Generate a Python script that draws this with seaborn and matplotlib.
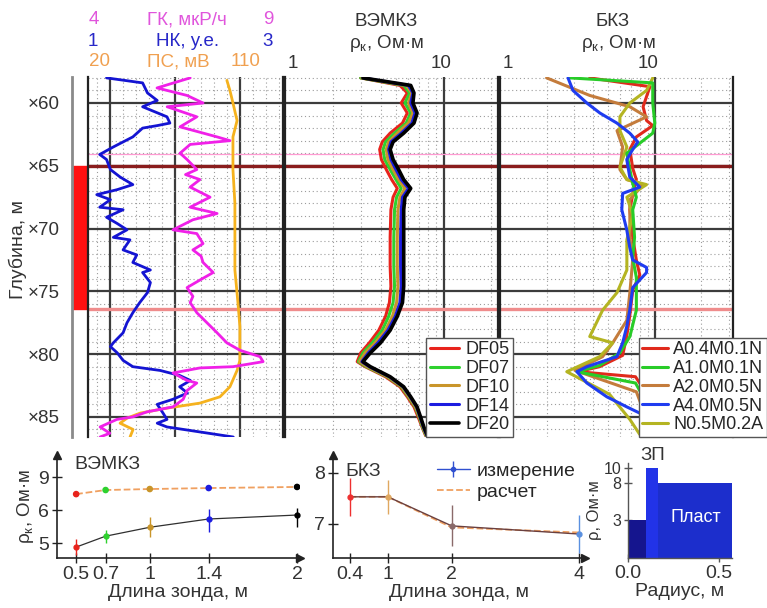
# -*- coding: utf-8 -*-
import numpy as np
import matplotlib
matplotlib.use("Agg")
import matplotlib.pyplot as plt
from matplotlib.ticker import MultipleLocator, LogLocator, FixedLocator, NullFormatter
from matplotlib.lines import Line2D
import seaborn as sns

# ---------------- well log data (depth, m) ----------------
gk_depth = [58.0, 58.8, 59.4, 60.0, 60.3, 61.1, 61.9, 62.7, 63.0, 63.3, 64.0, 64.5, 65.3, 65.7, 66.1, 66.7,
            67.5, 68.3, 68.8, 69.3, 70.1, 70.4, 71.2, 71.7, 72.2, 72.7, 73.5, 74.1, 74.7, 75.4, 75.9, 76.7,
            77.5, 78.3, 79.1, 79.7, 80.2, 80.6, 81.0, 81.1, 81.5, 82.1, 82.3, 82.9, 83.6, 84.2, 84.6, 85.0,
            85.2, 85.8, 86.3, 86.6]
gk_vals = [6.62, 5.77, 6.54, 6.95, 6.03, 6.79, 6.36, 7.31, 7.64, 6.62, 6.36, 6.54, 6.79, 6.5, 6.87, 6.62,
           7.13, 6.62, 7.31, 6.69, 6.18, 6.79, 6.95, 6.69, 6.9, 6.95, 7.21, 6.87, 6.54, 6.69, 6.62, 6.79,
           7.05, 7.31, 7.56, 7.90, 8.41, 8.49, 7.72, 6.87, 6.18, 6.54, 6.79, 6.54, 6.44, 6.18, 5.51, 5.15,
           4.74, 4.31, 4.56, 4.31]

nk_depth = [58.0, 58.4, 59.2, 59.8, 60.3, 61.1, 61.6, 61.8, 62.0, 62.7, 63.1, 63.5, 64.1, 64.5, 65.3, 65.9,
            66.5, 66.9, 67.3, 67.7, 68.3, 68.5, 69.1, 69.6, 70.1, 70.7, 70.9, 71.7, 72.1, 72.7, 73.3, 73.5,
            74.3, 75.1, 75.9, 76.7, 77.5, 78.3, 79.1, 79.4, 79.9, 80.5, 81.0, 81.3, 81.7, 82.1, 82.6, 83.1,
            83.6, 84.0, 84.7, 85.2, 85.5, 85.8, 86.2, 86.6]
nk_vals = [1.19, 1.56, 1.61, 1.71, 1.56, 1.81, 1.84, 1.71, 1.56, 1.46, 1.36, 1.26, 1.12, 1.19, 1.23, 1.33,
           1.46, 1.30, 1.09, 1.23, 1.12, 1.36, 1.19, 1.30, 1.40, 1.26, 1.43, 1.36, 1.50, 1.46, 1.64, 1.56,
           1.64, 1.61, 1.53, 1.46, 1.40, 1.36, 1.26, 1.23, 1.30, 1.36, 1.46, 1.74, 1.94, 2.05, 1.94, 2.02,
           1.87, 1.71, 1.77, 1.81, 1.71, 1.81, 2.15, 2.49]

ps_depth = [58.2, 59.0, 60.0, 61.4, 62.7, 65.3, 68.0, 70.7, 73.3, 75.9, 77.8, 79.4, 80.5, 81.3, 82.6, 83.4,
            83.9, 84.3, 84.7, 85.1, 85.5, 86.0, 86.6]
ps_vals = [84.1, 85.5, 86.9, 88.8, 86.9, 86.9, 87.8, 87.8, 87.8, 89.2, 90.1, 90.1, 90.1, 88.8, 85.5, 80.9,
           71.7, 56.5, 44.0, 38.0, 34.8, 40.8, 39.4]

# VEMKZ apparent resistivity, Ohm*m
vemkz_depth = [58.0, 58.6, 59.2, 60.0, 60.8, 61.6, 62.4, 63.1, 63.7, 64.5, 65.3, 66.1, 66.8, 67.5, 68.5, 70.7,
               73.0, 74.6, 75.9, 77.0, 78.1, 79.1, 79.9, 80.6, 81.0, 81.8, 82.6, 83.4, 84.2, 85.0, 85.8, 86.5]
df05 = [3.0, 5.3, 5.9, 5.4, 5.9, 5.5, 4.6, 4.1, 3.95, 4.05, 4.35, 4.7, 5.1, 4.8, 4.65, 4.6,
        4.6, 4.65, 4.55, 4.3, 3.9, 3.4, 3.0, 2.85, 3.2, 4.3, 5.3, 5.9, 6.5, 6.9, 7.3, 7.7]
df07 = [3.0, 5.6, 6.1, 5.7, 6.2, 5.8, 4.9, 4.3, 4.15, 4.25, 4.6, 5.0, 5.4, 5.05, 4.9, 4.85,
        4.85, 4.9, 4.8, 4.5, 4.1, 3.55, 3.1, 2.9, 3.25, 4.4, 5.4, 6.0, 6.6, 7.0, 7.35, 7.75]
df10 = [3.05, 5.8, 6.3, 6.0, 6.4, 6.0, 5.1, 4.5, 4.35, 4.45, 4.8, 5.2, 5.7, 5.3, 5.15, 5.1,
        5.1, 5.15, 5.05, 4.75, 4.3, 3.7, 3.2, 2.95, 3.3, 4.45, 5.45, 6.05, 6.65, 7.05, 7.4, 7.8]
df14 = [3.1, 6.0, 6.4, 6.2, 6.6, 6.3, 5.4, 4.65, 4.5, 4.65, 5.0, 5.4, 6.0, 5.5, 5.4, 5.35,
        5.35, 5.4, 5.3, 4.95, 4.45, 3.85, 3.35, 3.05, 3.4, 4.55, 5.55, 6.15, 6.75, 7.1, 7.45, 7.85]
df20 = [3.1, 6.2, 6.5, 6.4, 6.8, 6.5, 5.6, 4.8, 4.6, 4.8, 5.2, 5.6, 6.2, 5.7, 5.6, 5.6,
        5.6, 5.6, 5.5, 5.1, 4.6, 4.0, 3.45, 3.1, 3.45, 4.6, 5.6, 6.2, 6.8, 7.15, 7.5, 7.9]
vemkz_names = ["DF05", "DF07", "DF10", "DF14", "DF20"]

# BKZ apparent resistivity, Ohm*m
a04_depth = [58.0, 58.7, 60.3, 61.4, 61.8, 62.7, 63.7, 65.2, 66.1, 67.3, 68.5, 70.7, 72.5, 73.7, 74.9, 76.9,
             78.5, 80.1, 81.0, 81.4, 81.8, 82.9, 84.4, 86.0]
a04 = [3.8, 9.3, 8.4, 8.85, 9.7, 7.6, 6.9, 7.2, 7.6, 7.2, 6.9, 7.2, 7.6, 8.0, 7.2, 6.9,
       6.6, 6.2, 4.4, 3.2, 7.5, 8.6, 9.3, 10.0]
a10_depth = [58.0, 58.4, 60.0, 61.6, 62.4, 63.2, 64.0, 65.3, 66.4, 67.5, 68.5, 70.7, 72.3, 73.9, 76.5, 78.6,
             79.9, 80.9, 81.4, 82.3, 83.6, 85.2, 86.4]
a10 = [2.83, 9.7, 9.7, 10.0, 9.7, 8.0, 6.6, 6.9, 7.2, 7.6, 7.2, 7.4, 7.2, 7.6, 7.6, 6.9,
       5.95, 4.4, 3.14, 7.5, 8.6, 9.3, 10.0]
a20_depth = [58.0, 59.4, 60.3, 61.1, 62.2, 63.5, 65.3, 66.1, 66.5, 67.7, 70.7, 72.5, 75.1, 77.3, 79.1, 80.2,
             81.3, 83.0, 84.4, 86.2]
a20 = [2.0, 3.8, 6.9, 8.85, 5.7, 6.2, 5.95, 6.6, 8.4, 6.9, 6.9, 7.2, 6.9, 6.6, 5.35, 4.6,
       3.05, 7.6, 8.4, 9.3]
a40_depth = [58.0, 59.0, 60.0, 60.8, 61.6, 62.4, 63.1, 63.7, 64.5, 65.9, 66.7, 67.2, 68.5, 70.1, 71.5, 72.5,
             73.1, 73.5, 74.7, 76.5, 77.8, 79.1, 80.2, 81.0, 81.4, 82.3, 83.4, 84.2, 84.7, 85.6, 86.4]
a40 = [2.75, 2.96, 3.64, 4.42, 5.69, 6.89, 7.76, 7.2, 6.59, 6.89, 8.0, 6.2, 6.12, 6.59, 6.89, 7.2,
       8.85, 8.85, 7.2, 6.89, 6.59, 6.2, 5.69, 3.64, 3.14, 3.64, 4.9, 6.59, 8.0, 10.0, 11.6]
n05_depth = [58.0, 59.0, 60.0, 61.1, 62.2, 63.5, 65.1, 66.1, 66.5, 67.5, 68.9, 70.9, 73.3, 75.1, 76.5, 78.6,
             79.1, 80.2, 81.4, 83.2, 85.2, 86.4]
n05 = [9.7, 8.85, 6.9, 5.95, 5.95, 6.6, 5.95, 6.6, 8.85, 6.6, 7.2, 6.6, 6.6, 5.7, 4.6, 3.8,
       5.35, 4.4, 2.7, 5.1, 6.9, 8.0]
bkz_names = ["A0.4M0.1N", "A1.0M0.1N", "A2.0M0.5N", "A4.0M0.5N", "N0.5M0.2A"]

formation_top = 65.0
formation_bottom = 76.4
marker_depth = 64.1
depth_ticks = [60, 65, 70, 75, 80, 85]
depth_labels = ["×60", "×65", "×70", "×75", "×80", "×85"]

# sounding curves at the formation
vemkz_len = [0.5, 0.7, 1.0, 1.4, 2.0]
vemkz_meas = [4.88, 5.21, 5.48, 5.73, 5.85]
vemkz_err = [0.25, 0.2, 0.3, 0.38, 0.35]
vemkz_calc = [7.45, 7.82, 7.91, 8.0, 8.1]
vemkz_yticks = [5, 6, 9]

bkz_len = [0.4, 1.0, 2.0, 4.0]
bkz_meas = [7.53, 7.53, 6.96, 6.80]
bkz_err = [0.37, 0.33, 0.4, 0.38]
bkz_calc = [7.53, 7.53, 6.93, 6.83]
bkz_yticks = [7, 8]

# resistivity model
model_edges = [0.0, 0.10, 0.165, 0.57]
model_rho = [3.0, 10.0, 8.0]
model_yticks = [3, 8, 10]

# colours
GK_C, NK_C, PS_C = "#f020e8", "#1414d2", "#f5b21e"
vemkz_colors = ["#e8231c", "#2ed12e", "#c9952a", "#1c1ce0", "#000000"]
bkz_colors = ["#e02a1c", "#28cc28", "#c47c3c", "#1f3cf0", "#b4b422"]
model_colors = ["#15158e", "#2233e8", "#1c2ecc"]

sns.set_theme(style="white")
plt.rcParams["font.family"] = ["Liberation Sans", "DejaVu Sans"]
plt.rcParams["axes.unicode_minus"] = False

W, H = 767, 608
fig = plt.figure(figsize=(W / 100, H / 100), dpi=100)


def box(x0, y0, x1, y1):
    return [x0 / W, 1 - y1 / H, (x1 - x0) / W, (y1 - y0) / H]


def ftext(px, py, s, **kw):
    fig.text(px / W, 1 - py / H, s, ha=kw.pop("ha", "center"), va=kw.pop("va", "center"), **kw)


D_TOP, D_BOT = 57.93, 86.6


def no_ticks(ax):
    ax.tick_params(which="both", left=False, bottom=False, top=False, right=False, length=0,
                   labelleft=False, labelbottom=False, labeltop=False, labelright=False)


def style_track(ax):
    ax.set_ylim(D_BOT, D_TOP)
    ax.yaxis.set_major_locator(MultipleLocator(5))
    ax.yaxis.set_minor_locator(MultipleLocator(1))
    ax.grid(which="major", color="#3c3c3c", lw=1.6)
    ax.grid(which="minor", color="#9c9c9c", lw=0.8, ls=(0, (1, 2.5)))
    no_ticks(ax)
    ax.set_axisbelow(True)
    ax.spines["top"].set_visible(False)
    ax.spines["bottom"].set_visible(False)
    for s in ["left", "right"]:
        ax.spines[s].set_color("#222222")
        ax.spines[s].set_linewidth(1.6)
    ax.axhline(marker_depth, color="#ff9ad2", lw=0.9)
    ax.axhline(formation_top, color="#8a1c1c", lw=2.4)
    ax.axhline(formation_bottom, color="#ef8c8c", lw=2.4)


# ---------------- depth column ----------------
ax_d = fig.add_axes(box(72, 77, 88, 437))
ax_d.fill_betweenx([formation_top, formation_bottom], 0, 1, color="#ff1010")
ax_d.set_xlim(0, 1)
ax_d.set_ylim(D_BOT, D_TOP)
ax_d.set_xticks([])
ax_d.set_yticks(depth_ticks)
ax_d.set_yticklabels(depth_labels, fontsize=13.5, color="#333333")
ax_d.tick_params(axis="y", left=False, pad=3)
for s in ["top", "right", "bottom"]:
    ax_d.spines[s].set_visible(False)
ax_d.spines["left"].set_color("#8a8a8a")
ax_d.spines["left"].set_linewidth(2)
ftext(18, 250, "Глубина, м", rotation=90, fontsize=14, color="#333333")

# ---------------- track 1: GK / NK / PS ----------------
ax_ps = fig.add_axes(box(88, 77, 283, 437))
ax_ps.set_xlim(20, 110)
ax_ps.xaxis.set_major_locator(MultipleLocator(30))
ax_ps.xaxis.set_minor_locator(MultipleLocator(6))
style_track(ax_ps)
sns.lineplot(x=ps_vals, y=ps_depth, orient="y", sort=False, estimator=None, color=PS_C, lw=2.0, ax=ax_ps)

ax_nk = ax_ps.twiny()
sns.lineplot(x=nk_vals, y=nk_depth, orient="y", sort=False, estimator=None, color=NK_C, lw=2.0, ax=ax_nk)
ax_nk.set_xlim(1, 3)
ax_gk = ax_ps.twiny()
sns.lineplot(x=gk_vals, y=gk_depth, orient="y", sort=False, estimator=None, color=GK_C, lw=2.0, ax=ax_gk)
ax_gk.set_xlim(4, 9)
for a in [ax_ps, ax_nk, ax_gk]:
    a.set_ylim(D_BOT, D_TOP)
    a.set_xlabel("")
    a.set_ylabel("")
    no_ticks(a)
for a in [ax_nk, ax_gk]:
    a.xaxis.set_visible(False)
    for s in a.spines.values():
        s.set_visible(False)

ftext(94, 20, "4", color="#e055dc", fontsize=13.5)
ftext(187, 20, "ГК, мкР/ч", color="#e055dc", fontsize=13.5)
ftext(268, 20, "9", color="#e055dc", fontsize=13.5)
ftext(93, 42, "1", color="#2828c8", fontsize=13.5)
ftext(188, 42, "НК, у.е.", color="#2828c8", fontsize=13.5)
ftext(268, 42, "3", color="#2828c8", fontsize=13.5)
ftext(99, 62, "20", color="#f0a050", fontsize=13.5)
ftext(178, 62, "ПС, мВ", color="#f0a050", fontsize=13.5)
ftext(246, 62, "110", color="#f0a050", fontsize=13.5)

# ---------------- track 2: VEMKZ ----------------
ax_v = fig.add_axes(box(285, 77, 498, 437))
ax_v.set_xscale("log")
ax_v.set_xlim(1, 22)
ax_v.xaxis.set_major_locator(FixedLocator([10]))
ax_v.xaxis.set_minor_locator(LogLocator(base=10, subs=np.arange(2, 10)))
ax_v.xaxis.set_minor_formatter(NullFormatter())
style_track(ax_v)
for vals, name, c in zip([df05, df07, df10, df14, df20], vemkz_names, vemkz_colors):
    sns.lineplot(x=vals, y=vemkz_depth, orient="y", sort=False, estimator=None, color=c,
                 lw=2.6 if name == "DF20" else 2.2, label=name, ax=ax_v)
ax_v.set_xlim(1, 22)
ax_v.set_ylim(D_BOT, D_TOP)
ax_v.set_xlabel("")
ax_v.set_ylabel("")
ax_v.legend(loc="lower right", bbox_to_anchor=(1.07, 0.0), fontsize=13, frameon=True, fancybox=False,
            edgecolor="#555555", framealpha=1, handlelength=1.6, handletextpad=0.35, labelspacing=0.1,
            borderpad=0.2, borderaxespad=0.0)
ax_v.set_zorder(3)

ftext(386, 22, "ВЭМКЗ", fontsize=13.5, color="#333333")
ftext(386, 43, "ρ$_\\mathregular{к}$, Ом·м", fontsize=13.5, color="#333333")
ftext(288, 63, "1", ha="left", fontsize=13.5, color="#333333")
ftext(441, 63, "10", fontsize=13.5, color="#333333")

# ---------------- track 3: BKZ ----------------
ax_b = fig.add_axes(box(500, 77, 733, 437))
ax_b.set_xscale("log")
ax_b.set_xlim(1, 32)
ax_b.xaxis.set_major_locator(FixedLocator([10]))
ax_b.xaxis.set_minor_locator(LogLocator(base=10, subs=np.arange(2, 10)))
ax_b.xaxis.set_minor_formatter(NullFormatter())
style_track(ax_b)
bkz_series = [(a04_depth, a04), (a10_depth, a10), (a20_depth, a20), (a40_depth, a40), (n05_depth, n05)]
for i in [0, 2, 4, 1, 3]:
    dd, vv = bkz_series[i]
    sns.lineplot(x=vv, y=dd, orient="y", sort=False, estimator=None, color=bkz_colors[i], lw=2.2, ax=ax_b)
ax_b.set_xlim(1, 32)
ax_b.set_ylim(D_BOT, D_TOP)
ax_b.set_xlabel("")
ax_b.set_ylabel("")
bkz_handles = [Line2D([], [], color=c, lw=2.2) for c in bkz_colors]
ax_b.legend(bkz_handles, bkz_names, loc="lower right", bbox_to_anchor=(1.145, 0.0), fontsize=13,
            frameon=True, fancybox=False, edgecolor="#555555", framealpha=1, handlelength=1.4,
            handletextpad=0.3, labelspacing=0.1, borderpad=0.2, borderaxespad=0.0)
ax_b.set_zorder(2)

ftext(613, 22, "БКЗ", fontsize=13.5, color="#333333")
ftext(618, 43, "ρ$_\\mathregular{к}$, Ом·м", fontsize=13.5, color="#333333")
ftext(503, 63, "1", ha="left", fontsize=13.5, color="#333333")
ftext(648, 63, "10", fontsize=13.5, color="#333333")


# ---------------- bottom: sounding curves ----------------
def arrow_axes(ax):
    for s in ["top", "right"]:
        ax.spines[s].set_visible(False)
    for s in ["left", "bottom"]:
        ax.spines[s].set_color("#222222")
        ax.spines[s].set_linewidth(1.2)
    ax.plot(1, 0, ">", color="#222222", ms=6, transform=ax.transAxes, clip_on=False)
    ax.plot(0, 1, "^", color="#222222", ms=6, transform=ax.transAxes, clip_on=False)
    ax.tick_params(axis="both", which="major", direction="inout", length=7, width=1, color="#222222",
                   labelsize=14, labelcolor="#333333", left=True, bottom=True, pad=2)
    ax.grid(False)


def fwd(y):
    y = np.asarray(y, dtype=float)
    return np.where(y <= 6, y, 6 + (y - 6) / 3)


def inv(v):
    v = np.asarray(v, dtype=float)
    return np.where(v <= 6, v, 6 + (v - 6) * 3)


ax_s1 = fig.add_axes(box(57, 455, 300, 558))
ax_s1.set_yscale("function", functions=(fwd, inv))
sns.lineplot(x=vemkz_len, y=vemkz_calc, color="#f0a060", lw=1.3, ls="--", ax=ax_s1)
ax_s1.scatter(vemkz_len, vemkz_calc, c=vemkz_colors, s=14, zorder=3)
sns.lineplot(x=vemkz_len, y=vemkz_meas, color="#303030", lw=0.9, ax=ax_s1)
for x, y, e, c in zip(vemkz_len, vemkz_meas, vemkz_err, vemkz_colors):
    ax_s1.errorbar(x, y, yerr=e, fmt="o", color=c, ms=3.5, elinewidth=1.0, capsize=0, zorder=4)
ax_s1.set_xlim(0.37, 2.02)
ax_s1.set_ylim(4.55, 11.0)
ax_s1.set_xticks(vemkz_len)
ax_s1.set_xticklabels(["0.5", "0.7", "1", "1.4", "2"])
ax_s1.set_yticks(vemkz_yticks)
ax_s1.set_yticklabels([str(t) for t in vemkz_yticks])
arrow_axes(ax_s1)
ax_s1.set_xlabel("Длина зонда, м", fontsize=14, color="#333333", labelpad=1)
ax_s1.set_ylabel("ρ$_\\mathregular{к}$, Ом·м", fontsize=13.5, color="#333333", labelpad=2)
ax_s1.text(0.07, 0.86, "ВЭМКЗ", transform=ax_s1.transAxes, fontsize=14, color="#333333")

ax_s2 = fig.add_axes(box(333, 455, 585, 558))
sns.lineplot(x=bkz_len, y=bkz_calc, color="#f0a060", lw=1.3, ls="--", ax=ax_s2)
sns.lineplot(x=bkz_len, y=bkz_meas, color="#6a4040", lw=1.0, ax=ax_s2)
meas_cols = ["#ee3030", "#e0a860", "#8a6a6a", "#5a90e0"]
for x, y, e, c in zip(bkz_len, bkz_meas, bkz_err, meas_cols):
    ax_s2.errorbar(x, y, yerr=e, fmt="o", color=c, ms=3.5, elinewidth=1.0, capsize=0, zorder=4)
ax_s2.set_xlim(0.14, 4.09)
ax_s2.set_ylim(6.33, 8.35)
ax_s2.set_xticks(bkz_len)
ax_s2.set_xticklabels(["0.4", "1", "2", "4"])
ax_s2.set_yticks(bkz_yticks)
ax_s2.set_yticklabels([str(t) for t in bkz_yticks])
arrow_axes(ax_s2)
ax_s2.set_xlabel("Длина зонда, м", fontsize=14, color="#333333", labelpad=1)
ax_s2.set_ylabel("")
ax_s2.text(0.05, 0.8, "БКЗ", transform=ax_s2.transAxes, fontsize=14, color="#333333")
meas_handle = (Line2D([], [], color="#3050d0", lw=1.0),
               Line2D([], [], color="#3050d0", marker="|", ms=12, mew=1.0, ls="none"),
               Line2D([], [], color="#3050d0", marker="o", ms=3, ls="none"))
calc_handle = Line2D([], [], color="#f0a060", lw=1.3, ls="--")
ax_s2.legend([meas_handle, calc_handle], ["измерение", "расчет"], loc="upper right",
             bbox_to_anchor=(1.0, 1.02), fontsize=14, frameon=False, handlelength=1.7,
             handletextpad=0.35, labelspacing=0.15, borderaxespad=0.1)

# ---------------- bottom: resistivity model ----------------
ax_s3 = fig.add_axes(box(628, 463, 732, 558))
for i in range(3):
    ax_s3.stairs([model_rho[i]], model_edges[i:i + 2], baseline=-5, fill=True, color=model_colors[i])
ax_s3.set_xlim(0, 0.57)
ax_s3.set_ylim(-2.1, 10.7)
ax_s3.set_xticks([0.0, 0.5])
ax_s3.set_xticklabels(["0.0", "0.5"])
ax_s3.set_yticks(model_yticks)
ax_s3.set_yticklabels([str(t) for t in model_yticks])
for s in ["top", "right"]:
    ax_s3.spines[s].set_visible(False)
for s in ["left", "bottom"]:
    ax_s3.spines[s].set_color("#555555")
    ax_s3.spines[s].set_linewidth(1.0)
ax_s3.tick_params(axis="both", direction="inout", length=6, width=1, color="#555555", labelsize=11.5,
                  labelcolor="#333333", left=True, bottom=True, pad=2)
ax_s3.tick_params(axis="x", labelsize=14)
ax_s3.grid(False)
ax_s3.set_xlabel("Радиус, м", fontsize=14, color="#333333", labelpad=1)
ax_s3.set_ylabel("ρ, Ом·м", fontsize=12, color="#333333", labelpad=1)
ax_s3.text(0.37, 3.4, "Пласт", color="white", fontsize=13, ha="center", va="center")
ax_s3.text(0.135, model_rho[1] + 0.6, "ЗП", color="#333333", fontsize=13.5, ha="center", va="bottom",
           clip_on=False)

fig.savefig("out.png", dpi=100)
